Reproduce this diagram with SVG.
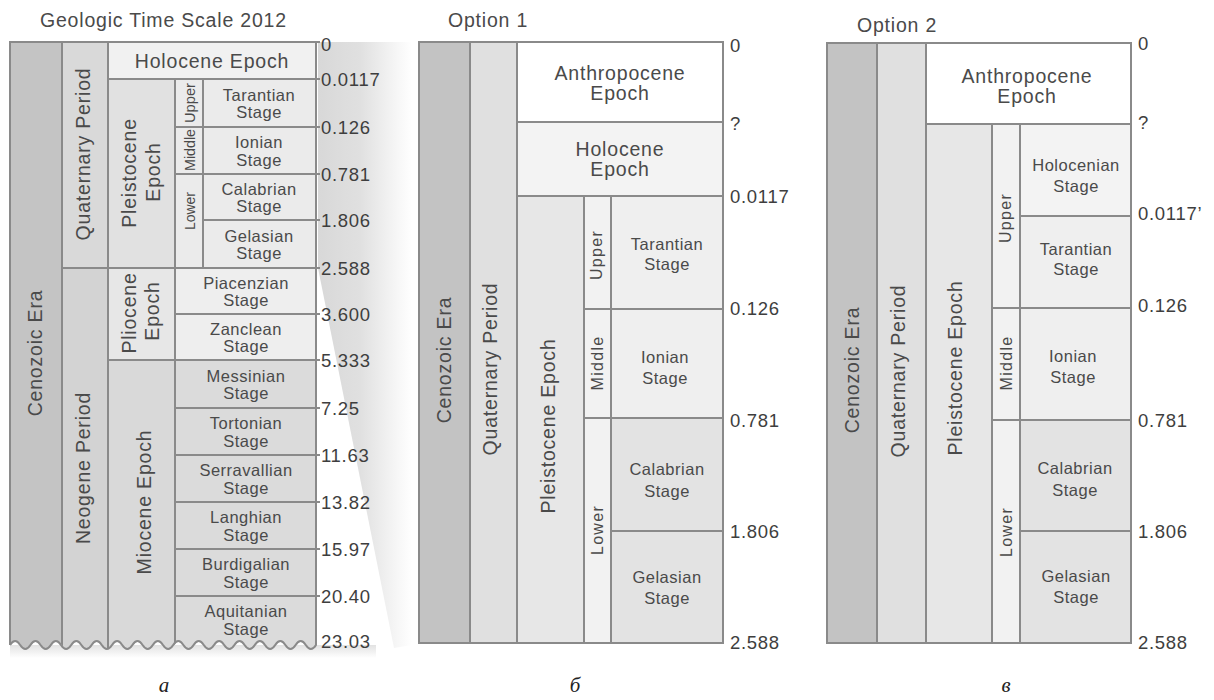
<svg xmlns="http://www.w3.org/2000/svg" width="1214" height="700" viewBox="0 0 1214 700">
<style>
.ln{stroke:#8a8a8a;stroke-width:2}
.t{font-family:"Liberation Sans",Arial,sans-serif;fill:#4a4a4a}
.lbl{font-size:19.5px;letter-spacing:0.8px;text-anchor:middle}
.ttl{font-size:19.5px;letter-spacing:0.8px}
.stg{font-size:16.5px;letter-spacing:0.5px;text-anchor:middle}
.num{font-size:18.5px;letter-spacing:0.7px;fill:#3e3e3e}
.suba{font-size:15px;text-anchor:middle}
.subb{font-size:16px;letter-spacing:1.3px;text-anchor:middle}
.cap{font-family:"Liberation Serif","Times New Roman",serif;font-style:italic;font-size:21px;fill:#222;text-anchor:middle}
.era{fill:#c4c4c4}
.per{fill:#d9d9d9}
.per2{fill:#d3d3d3}
.epP{fill:#e1e1e1}
.hol{fill:#f1f1f1}
.sub{fill:#ebebeb}
.stq{fill:#ebebeb}
.plio{fill:#e7e7e7}
.stp{fill:#eeeeee}
.mio{fill:#d9d9d9}
.stm{fill:#dbdbdb}
.eraB{fill:#c3c3c3}
.perB{fill:#e0e0e0}
.epB{fill:#e7e7e7}
.wht{fill:#ffffff}
.holB{fill:#f3f3f3}
.subB{fill:#f2f2f2}
.stL{fill:#efefef}
.stD{fill:#e3e3e3}
</style>
<defs>
<linearGradient id="wedge" x1="318" y1="0" x2="412" y2="0" gradientUnits="userSpaceOnUse">
<stop offset="0" stop-color="#d8d8d8"/>
<stop offset="0.45" stop-color="#e0e0e0"/>
<stop offset="0.85" stop-color="#f7f7f7"/>
<stop offset="1" stop-color="#ffffff"/>
</linearGradient>
<linearGradient id="fringe" x1="0" y1="645" x2="0" y2="658" gradientUnits="userSpaceOnUse">
<stop offset="0" stop-color="#e2e2e2"/>
<stop offset="1" stop-color="#ffffff"/>
</linearGradient>
<clipPath id="clipA">
<path d="M8,40 H317 V645 q-5.1,8 -10.2,0 t-10.2,0 t-10.2,0 t-10.2,0 t-10.2,0 t-10.2,0 t-10.2,0 t-10.2,0 t-10.2,0 t-10.2,0 t-10.2,0 t-10.2,0 t-10.2,0 t-10.2,0 t-10.2,0 t-10.2,0 t-10.2,0 t-10.2,0 t-10.2,0 t-10.2,0 t-10.2,0 t-10.2,0 t-10.2,0 t-10.2,0 t-10.2,0 t-10.2,0 t-10.2,0 t-10.2,0 t-10.2,0 t-10.2,0 L8,645 Z"/>
</clipPath>
</defs>

<g id="connectors">
<polygon id="zoom-wedge" points="318,42 412,42 412,645 394,648 318,268" fill="url(#wedge)"/>
<rect x="10" y="645" width="366" height="13" fill="url(#fringe)"/>
</g>

<!-- Panel a -->
<g id="panel-a">
<text class="t ttl" x="40" y="27">Geologic Time Scale 2012</text>
<g clip-path="url(#clipA)">
<g id="a-era"><rect class="era ln" x="10" y="42" width="52" height="620"/></g>
<g id="a-quaternary"><rect class="per ln" x="62" y="42" width="46" height="226"/></g>
<g id="a-neogene"><rect class="per2 ln" x="62" y="268" width="46" height="394"/></g>
<g id="a-holocene"><rect class="hol ln" x="108" y="42" width="208" height="37"/></g>
<g id="a-pleistocene"><rect class="epP ln" x="108" y="79" width="67" height="189"/></g>
<g id="a-upper"><rect class="sub ln" x="175" y="79" width="28" height="48"/></g>
<g id="a-middle"><rect class="sub ln" x="175" y="127" width="28" height="47"/></g>
<g id="a-lower"><rect class="sub ln" x="175" y="174" width="28" height="94"/></g>
<g id="a-tarantian"><rect class="stq ln" x="203" y="79" width="113" height="48"/></g>
<g id="a-ionian"><rect class="stq ln" x="203" y="127" width="113" height="47"/></g>
<g id="a-calabrian"><rect class="stq ln" x="203" y="174" width="113" height="46"/></g>
<g id="a-gelasian"><rect class="stq ln" x="203" y="220" width="113" height="48"/></g>
<g id="a-pliocene"><rect class="plio ln" x="108" y="268" width="67" height="92"/></g>
<g id="a-piacenzian"><rect class="stp ln" x="175" y="268" width="141" height="46"/></g>
<g id="a-zanclean"><rect class="stp ln" x="175" y="314" width="141" height="46"/></g>
<g id="a-miocene"><rect class="mio ln" x="108" y="360" width="67" height="302"/></g>
<g id="a-messinian"><rect class="stm ln" x="175" y="360" width="141" height="48"/></g>
<g id="a-tortonian"><rect class="stm ln" x="175" y="408" width="141" height="47"/></g>
<g id="a-serravallian"><rect class="stm ln" x="175" y="455" width="141" height="47"/></g>
<g id="a-langhian"><rect class="stm ln" x="175" y="502" width="141" height="47"/></g>
<g id="a-burdigalian"><rect class="stm ln" x="175" y="549" width="141" height="47"/></g>
<g id="a-aquitanian"><rect class="stm ln" x="175" y="596" width="141" height="66"/></g>
</g>
<path class="ln" fill="none" d="M316,645 q-5.1,8 -10.2,0 t-10.2,0 t-10.2,0 t-10.2,0 t-10.2,0 t-10.2,0 t-10.2,0 t-10.2,0 t-10.2,0 t-10.2,0 t-10.2,0 t-10.2,0 t-10.2,0 t-10.2,0 t-10.2,0 t-10.2,0 t-10.2,0 t-10.2,0 t-10.2,0 t-10.2,0 t-10.2,0 t-10.2,0 t-10.2,0 t-10.2,0 t-10.2,0 t-10.2,0 t-10.2,0 t-10.2,0 t-10.2,0 t-10.2,0"/>
<g class="ln">
<line x1="316" y1="42" x2="320" y2="42"/><line x1="316" y1="79" x2="320" y2="79"/><line x1="316" y1="127" x2="320" y2="127"/>
<line x1="316" y1="174" x2="320" y2="174"/><line x1="316" y1="220" x2="320" y2="220"/><line x1="316" y1="268" x2="320" y2="268"/>
<line x1="316" y1="314" x2="320" y2="314"/><line x1="316" y1="360" x2="320" y2="360"/><line x1="316" y1="408" x2="320" y2="408"/>
<line x1="316" y1="455" x2="320" y2="455"/><line x1="316" y1="502" x2="320" y2="502"/><line x1="316" y1="549" x2="320" y2="549"/>
<line x1="316" y1="596" x2="320" y2="596"/>
</g>
<text class="t lbl" transform="translate(42,353) rotate(-90)">Cenozoic Era</text>
<text class="t lbl" transform="translate(90,154) rotate(-90)">Quaternary Period</text>
<text class="t lbl" transform="translate(90,468) rotate(-90)">Neogene Period</text>
<text class="t lbl" x="212" y="68">Holocene Epoch</text>
<text class="t lbl" transform="translate(136,173) rotate(-90)">Pleistocene</text>
<text class="t lbl" transform="translate(160,172) rotate(-90)">Epoch</text>
<text class="t lbl" transform="translate(136,313) rotate(-90)">Pliocene</text>
<text class="t lbl" transform="translate(159,311) rotate(-90)">Epoch</text>
<text class="t lbl" transform="translate(151,502) rotate(-90)">Miocene Epoch</text>
<text class="t suba" transform="translate(195,103) rotate(-90)" textLength="40" lengthAdjust="spacingAndGlyphs">Upper</text>
<text class="t suba" transform="translate(195,150) rotate(-90)" textLength="42" lengthAdjust="spacingAndGlyphs">Middle</text>
<text class="t suba" transform="translate(195,211) rotate(-90)" textLength="38" lengthAdjust="spacingAndGlyphs">Lower</text>
<text class="t stg" x="259" y="100.5">Tarantian</text><text class="t stg" x="259" y="118">Stage</text>
<text class="t stg" x="259" y="148">Ionian</text><text class="t stg" x="259" y="165.5">Stage</text>
<text class="t stg" x="259" y="194.5">Calabrian</text><text class="t stg" x="259" y="212">Stage</text>
<text class="t stg" x="259" y="241.5">Gelasian</text><text class="t stg" x="259" y="259">Stage</text>
<text class="t stg" x="246" y="288.5">Piacenzian</text><text class="t stg" x="246" y="306">Stage</text>
<text class="t stg" x="246" y="334.5">Zanclean</text><text class="t stg" x="246" y="352">Stage</text>
<text class="t stg" x="246" y="381.5">Messinian</text><text class="t stg" x="246" y="399">Stage</text>
<text class="t stg" x="246" y="429">Tortonian</text><text class="t stg" x="246" y="446.5">Stage</text>
<text class="t stg" x="246" y="476">Serravallian</text><text class="t stg" x="246" y="493.5">Stage</text>
<text class="t stg" x="246" y="523">Langhian</text><text class="t stg" x="246" y="540.5">Stage</text>
<text class="t stg" x="246" y="570">Burdigalian</text><text class="t stg" x="246" y="587.5">Stage</text>
<text class="t stg" x="246" y="617">Aquitanian</text><text class="t stg" x="246" y="634.5">Stage</text>
<g class="t num">
<text x="321" y="51">0</text>
<text x="321" y="86">0.0117</text>
<text x="321" y="134">0.126</text>
<text x="321" y="181">0.781</text>
<text x="321" y="227">1.806</text>
<text x="321" y="275">2.588</text>
<text x="321" y="321">3.600</text>
<text x="321" y="367">5.333</text>
<text x="321" y="415">7.25</text>
<text x="321" y="462">11.63</text>
<text x="321" y="509">13.82</text>
<text x="321" y="556">15.97</text>
<text x="321" y="603">20.40</text>
<text x="321" y="648">23.03</text>
</g>
<text class="cap" x="164" y="692">а</text>
</g>

<!-- Panel b -->
<g id="panel-b">
<text class="t ttl" x="448" y="27">Option 1</text>
<g id="b-era"><rect class="eraB ln" x="419" y="42" width="51" height="601"/><text class="t lbl" transform="translate(451,360) rotate(-90)">Cenozoic Era</text></g>
<g id="b-quaternary"><rect class="perB ln" x="470" y="42" width="47" height="601"/><text class="t lbl" transform="translate(497,369) rotate(-90)">Quaternary Period</text></g>
<g id="b-anthropocene"><rect class="wht ln" x="517" y="42" width="206" height="80"/><text class="t lbl" x="620" y="80">Anthropocene</text><text class="t lbl" x="620" y="100">Epoch</text></g>
<g id="b-holocene"><rect class="holB ln" x="517" y="122" width="206" height="74"/><text class="t lbl" x="620" y="156">Holocene</text><text class="t lbl" x="620" y="176">Epoch</text></g>
<g id="b-pleistocene"><rect class="epB ln" x="517" y="196" width="67" height="447"/><text class="t lbl" transform="translate(555,426) rotate(-90)">Pleistocene Epoch</text></g>
<g id="b-upper"><rect class="subB ln" x="584" y="196" width="27" height="113"/><text class="t subb" transform="translate(602,255) rotate(-90)">Upper</text></g>
<g id="b-middle"><rect class="subB ln" x="584" y="309" width="27" height="109"/><text class="t subb" transform="translate(603,363) rotate(-90)">Middle</text></g>
<g id="b-lower"><rect class="subB ln" x="584" y="418" width="27" height="225"/><text class="t subb" transform="translate(603,530) rotate(-90)">Lower</text></g>
<g id="b-tarantian"><rect class="stL ln" x="611" y="196" width="112" height="113"/><text class="t stg" x="667" y="250">Tarantian</text><text class="t stg" x="667" y="270">Stage</text></g>
<g id="b-ionian"><rect class="stL ln" x="611" y="309" width="112" height="109"/><text class="t stg" x="665" y="363">Ionian</text><text class="t stg" x="665" y="384">Stage</text></g>
<g id="b-calabrian"><rect class="stD ln" x="611" y="418" width="112" height="113"/><text class="t stg" x="667" y="475">Calabrian</text><text class="t stg" x="667" y="497">Stage</text></g>
<g id="b-gelasian"><rect class="stD ln" x="611" y="531" width="112" height="112"/><text class="t stg" x="667" y="583">Gelasian</text><text class="t stg" x="667" y="604">Stage</text></g>
<g class="t num">
<text x="730" y="52">0</text>
<text x="730" y="130">?</text>
<text x="730" y="203">0.0117</text>
<text x="730" y="315">0.126</text>
<text x="730" y="427">0.781</text>
<text x="730" y="538">1.806</text>
<text x="730" y="649">2.588</text>
</g>
<text class="cap" x="575" y="692">б</text>
</g>

<!-- Panel c -->
<g id="panel-c">
<text class="t ttl" x="857" y="32">Option 2</text>
<g id="c-era"><rect class="eraB ln" x="827" y="43" width="50" height="600"/><text class="t lbl" transform="translate(859,370) rotate(-90)">Cenozoic Era</text></g>
<g id="c-quaternary"><rect class="perB ln" x="877" y="43" width="49" height="600"/><text class="t lbl" transform="translate(905,371) rotate(-90)">Quaternary Period</text></g>
<g id="c-anthropocene"><rect class="wht ln" x="926" y="43" width="205" height="81"/><text class="t lbl" x="1027" y="83">Anthropocene</text><text class="t lbl" x="1027" y="103">Epoch</text></g>
<g id="c-pleistocene"><rect class="epB ln" x="926" y="124" width="66" height="519"/><text class="t lbl" transform="translate(962,368) rotate(-90)">Pleistocene Epoch</text></g>
<g id="c-upper"><rect class="subB ln" x="992" y="124" width="28" height="184"/><text class="t subb" transform="translate(1011,218) rotate(-90)">Upper</text></g>
<g id="c-middle"><rect class="subB ln" x="992" y="308" width="28" height="112"/><text class="t subb" transform="translate(1012,363) rotate(-90)">Middle</text></g>
<g id="c-lower"><rect class="subB ln" x="992" y="420" width="28" height="223"/><text class="t subb" transform="translate(1012,532) rotate(-90)">Lower</text></g>
<g id="c-holocenian"><rect class="holB ln" x="1020" y="124" width="111" height="92"/><text class="t stg" x="1076" y="171">Holocenian</text><text class="t stg" x="1076" y="192">Stage</text></g>
<g id="c-tarantian"><rect class="stL ln" x="1020" y="216" width="111" height="92"/><text class="t stg" x="1076" y="255">Tarantian</text><text class="t stg" x="1076" y="275">Stage</text></g>
<g id="c-ionian"><rect class="stL ln" x="1020" y="308" width="111" height="112"/><text class="t stg" x="1073" y="362">Ionian</text><text class="t stg" x="1073" y="383">Stage</text></g>
<g id="c-calabrian"><rect class="stD ln" x="1020" y="420" width="111" height="111"/><text class="t stg" x="1075" y="474">Calabrian</text><text class="t stg" x="1075" y="496">Stage</text></g>
<g id="c-gelasian"><rect class="stD ln" x="1020" y="531" width="111" height="112"/><text class="t stg" x="1076" y="582">Gelasian</text><text class="t stg" x="1076" y="603">Stage</text></g>
<g class="t num">
<text x="1138" y="50">0</text>
<text x="1138" y="129">?</text>
<text x="1138" y="220">0.0117’</text>
<text x="1138" y="312">0.126</text>
<text x="1138" y="427">0.781</text>
<text x="1138" y="538">1.806</text>
<text x="1138" y="649">2.588</text>
</g>
<text class="cap" x="1006" y="692">в</text>
</g>
</svg>
